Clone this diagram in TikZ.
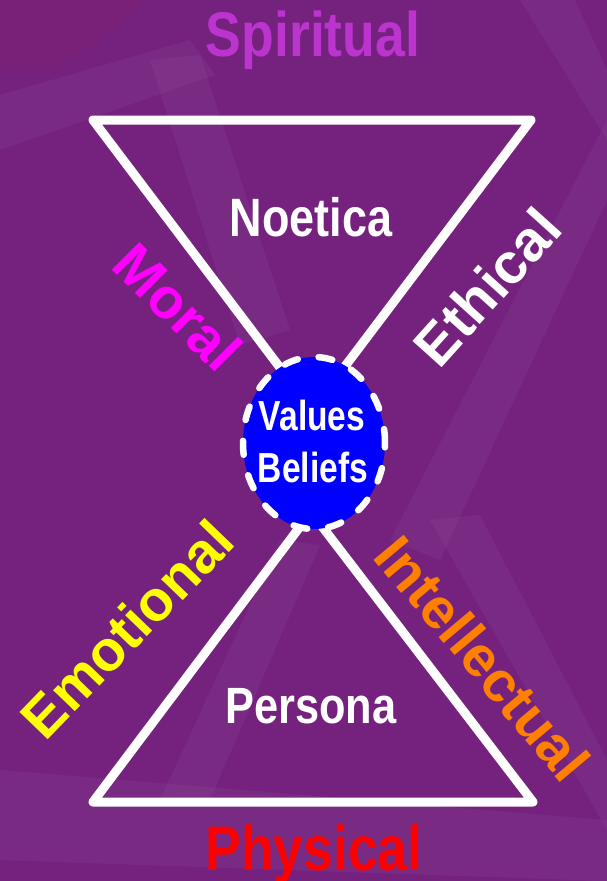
\documentclass[tikz,border=0pt]{standalone}
\usepackage{fontspec}
\setmainfont{Liberation Sans}
\usetikzlibrary{shapes.geometric}
\definecolor{bgpurple}{RGB}{116,34,126}
\definecolor{spiritcol}{RGB}{187,52,206}
\definecolor{moralcol}{RGB}{255,0,255}
\definecolor{emocol}{RGB}{255,255,0}
\definecolor{intcol}{RGB}{255,128,0}
\definecolor{physcol}{RGB}{255,0,0}
\definecolor{vbblue}{RGB}{0,0,255}
\begin{document}
\begin{tikzpicture}[x=1pt,y=-1pt,
  rlbl/.style={inner sep=0pt, font=\bfseries\fontsize{57}{60}\selectfont},
  hlbl/.style={inner sep=0pt, anchor=base, xscale=0.85, text=white, font=\bfseries\fontsize{#1}{#1}\selectfont},
  edge/.style={draw=white, line width=9pt, line join=round},
  band/.style={fill=white, opacity=0.04}]
\useasboundingbox (0,0) rectangle (607,881);
\fill[bgpurple] (0,0) rectangle (607,881);
% faint background bands
\fill[band] (0,95) -- (190,40) -- (215,75) -- (0,150) -- cycle;
\fill[band] (150,60) -- (200,55) -- (290,330) -- (240,345) -- cycle;
\fill[band] (520,0) -- (575,0) -- (607,70) -- (607,140) -- cycle;
\fill[band] (607,120) -- (607,200) -- (440,560) -- (390,540) -- cycle;
\fill[band] (430,520) -- (480,515) -- (607,760) -- (607,830) -- cycle;
\fill[band] (280,540) -- (320,545) -- (210,800) -- (160,800) -- cycle;
\fill[band] (0,770) -- (607,820) -- (607,881) -- (0,860) -- cycle;
\fill[fill=red, opacity=0.04] (0,0) -- (150,0) -- (60,70) -- (0,70) -- cycle;
% triangles
\coordinate (tl) at (93,120);
\coordinate (tr) at (531,120);
\coordinate (ta) at (312,410);
\coordinate (bl) at (93,802);
\coordinate (br) at (533,802);
\coordinate (ba) at (311,512);
\draw[edge] (tl) -- (tr) -- (ta) -- cycle;
\draw[edge] (bl) -- (br) -- (ba) -- cycle;
% centre ellipse
\node[ellipse, draw=white, fill=vbblue, line width=6.5pt, line cap=round,
      dash pattern=on 14pt off 21pt, minimum width=142pt, minimum height=172pt,
      inner sep=0pt] (vb) at (314,443) {};
\node[hlbl=42, xscale=0.94] (values) at (312,430) {Values};
\node[hlbl=42, xscale=0.94] (beliefs) at (313,482) {Beliefs};
% horizontal labels
\node[hlbl=63, text=spiritcol] (spiritual) at (313,56) {Spiritual};
\node[hlbl=54, xscale=0.98] (noetica) at (311,236) {Noetica};
\node[hlbl=51] (persona) at (311,723) {Persona};
\node[hlbl=63, text=physcol] (physical) at (314,870) {Physical};
% rotated labels
\node[rlbl, text=moralcol, rotate=-45] (moral) at (178,307) {Moral};
\node[rlbl, text=white, rotate=48] (ethical) at (487,287) {Ethical};
\node[rlbl, text=emocol, rotate=46] (emotional) at (127,629) {Emotional};
\node[rlbl, text=intcol, rotate=-50] (intellectual) at (483,658) {Intellectual};
\end{tikzpicture}
\end{document}
